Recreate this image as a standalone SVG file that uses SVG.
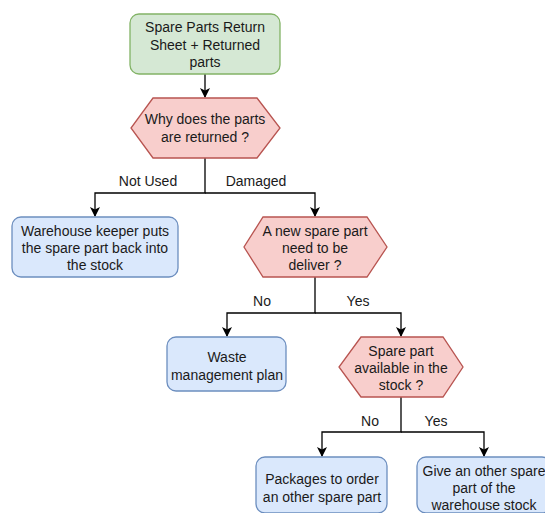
<svg xmlns="http://www.w3.org/2000/svg" width="545" height="513" viewBox="0 0 545 513">
<defs>
<marker id="arr" viewBox="0 0 10 10" refX="9" refY="5" markerWidth="10" markerHeight="10" markerUnits="userSpaceOnUse" orient="auto">
<path d="M0,0 L10,5 L0,10 L2.5,5 Z" fill="#000"/>
</marker>
<style>
text{font-family:"Liberation Sans",Arial,Helvetica,sans-serif;font-size:14px;fill:#1a1a1a;text-anchor:middle}
.green{fill:#d5e8d4;stroke:#82b366;stroke-width:1.3}
.blue{fill:#dae8fc;stroke:#6c8ebf;stroke-width:1.3}
.red{fill:#f8cecc;stroke:#b85450;stroke-width:1.3}
.edge{fill:none;stroke:#000;stroke-width:1.3;marker-end:url(#arr)}
</style>
</defs>
<rect width="545" height="513" fill="#fff"/>
<g id="connectors">
<path class="edge" d="M205,74 V97"/>
<path class="edge" d="M205,158 V193 H95 V216"/>
<path class="edge" d="M205,193 H315 V216"/>
<path class="edge" d="M315,277 V313 H227 V336"/>
<path class="edge" d="M315,313 H401 V336"/>
<path class="edge" d="M401,397 V432 H322 V456"/>
<path class="edge" d="M401,432 H484 V456"/>
<text x="148" y="186">Not Used</text>
<text x="256" y="186">Damaged</text>
<text x="262" y="306">No</text>
<text x="358" y="306">Yes</text>
<text x="370" y="426">No</text>
<text x="436" y="426">Yes</text>
</g>
<g id="start">
<rect class="green" x="130" y="14" width="150" height="60" rx="9"/>
<text x="205" y="32">Spare Parts Return</text>
<text x="205" y="49.5">Sheet + Returned</text>
<text x="205" y="67">parts</text>
</g>
<g id="why">
<polygon class="red" points="153,98 257,98 280,128 257,158 153,158 131,128"/>
<text x="205" y="124">Why does the parts</text>
<text x="205" y="142">are returned ?</text>
</g>
<g id="putback">
<rect class="blue" x="12" y="217" width="166" height="60" rx="9"/>
<text x="95" y="236">Warehouse keeper puts</text>
<text x="95" y="253">the spare part back into</text>
<text x="95" y="270">the stock</text>
</g>
<g id="newpart">
<polygon class="red" points="263,217 367,217 387,247 367,277 263,277 244,247"/>
<text x="315" y="236">A new spare part</text>
<text x="315" y="253">need to be</text>
<text x="315" y="270">deliver ?</text>
</g>
<g id="waste">
<rect class="blue" x="167" y="337" width="119" height="54" rx="9"/>
<text x="227" y="362">Waste</text>
<text x="227" y="380">management plan</text>
</g>
<g id="available">
<polygon class="red" points="361,337 443,337 463,367 443,397 361,397 339,367"/>
<text x="401" y="356">Spare part</text>
<text x="401" y="373">available in the</text>
<text x="401" y="390">stock ?</text>
</g>
<g id="order">
<rect class="blue" x="256" y="457" width="131" height="56" rx="9"/>
<text x="322" y="484">Packages to order</text>
<text x="322" y="502">an other spare part</text>
</g>
<g id="give">
<rect class="blue" x="417" y="457" width="134" height="56" rx="9"/>
<text x="484" y="476">Give an other spare</text>
<text x="484" y="493">part of the</text>
<text x="484" y="510">warehouse stock</text>
</g>
</svg>
